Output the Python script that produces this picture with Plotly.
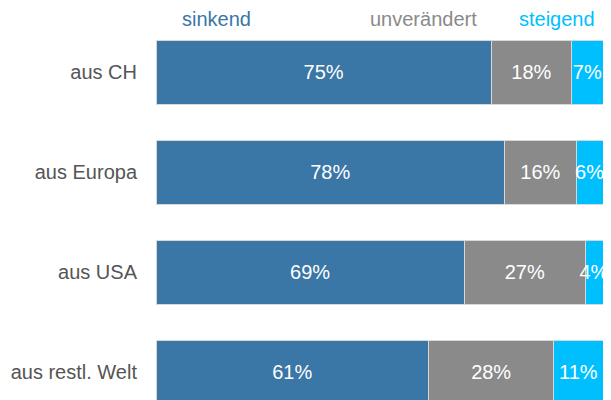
import plotly.graph_objects as go

categories = ["aus CH", "aus Europa", "aus USA", "aus restl. Welt"]
sinkend = [75, 78, 69, 61]
unveraendert = [18, 16, 27, 28]
steigend = [7, 6, 4, 11]
series_names = ["sinkend", "unverändert", "steigend"]
colors = ["#3a76a6", "#8a8a8a", "#00bfff"]

font = "Liberation Sans, Arial, sans-serif"
fig = go.Figure()
for name, vals, col in zip(series_names, [sinkend, unveraendert, steigend], colors):
    fig.add_trace(go.Bar(
        y=categories, x=vals, orientation="h", name=name,
        marker=dict(color=col, line=dict(color="#d8d8d8", width=1)),
        text=[f"{v}%" for v in vals], textposition="inside",
        insidetextanchor="middle", textangle=0,
        textfont=dict(color="white", size=20, family=font),
        hoverinfo="skip", cliponaxis=False,
    ))

# page body has an 8px margin, so the figure is drawn 8px smaller and offset
fig.update_layout(
    barmode="stack", bargap=0.36, showlegend=False,
    width=603, height=392,
    margin=dict(l=148, r=8, t=14, b=0, autoexpand=False),
    paper_bgcolor="white", plot_bgcolor="white",
    uniformtext=dict(minsize=20, mode="show"),
    xaxis=dict(range=[0, 100], visible=False, fixedrange=True, automargin=False),
    yaxis=dict(range=[3.28, -0.5], autorange=False, showgrid=False, zeroline=False,
               showline=False, ticks="", ticklabelstandoff=18, automargin=False,
               tickfont=dict(size=20, color="#555555", family=font)),
)
for name, col, x in zip(series_names, colors, [180, 368, 517]):
    fig.add_annotation(text=name, xref="paper", yref="paper",
                       x=(x - 156) / 447, y=1.0, yshift=-10, xanchor="left", yanchor="bottom",
                       showarrow=False, font=dict(size=20, color=col, family=font))

fig.write_html("out.html")
